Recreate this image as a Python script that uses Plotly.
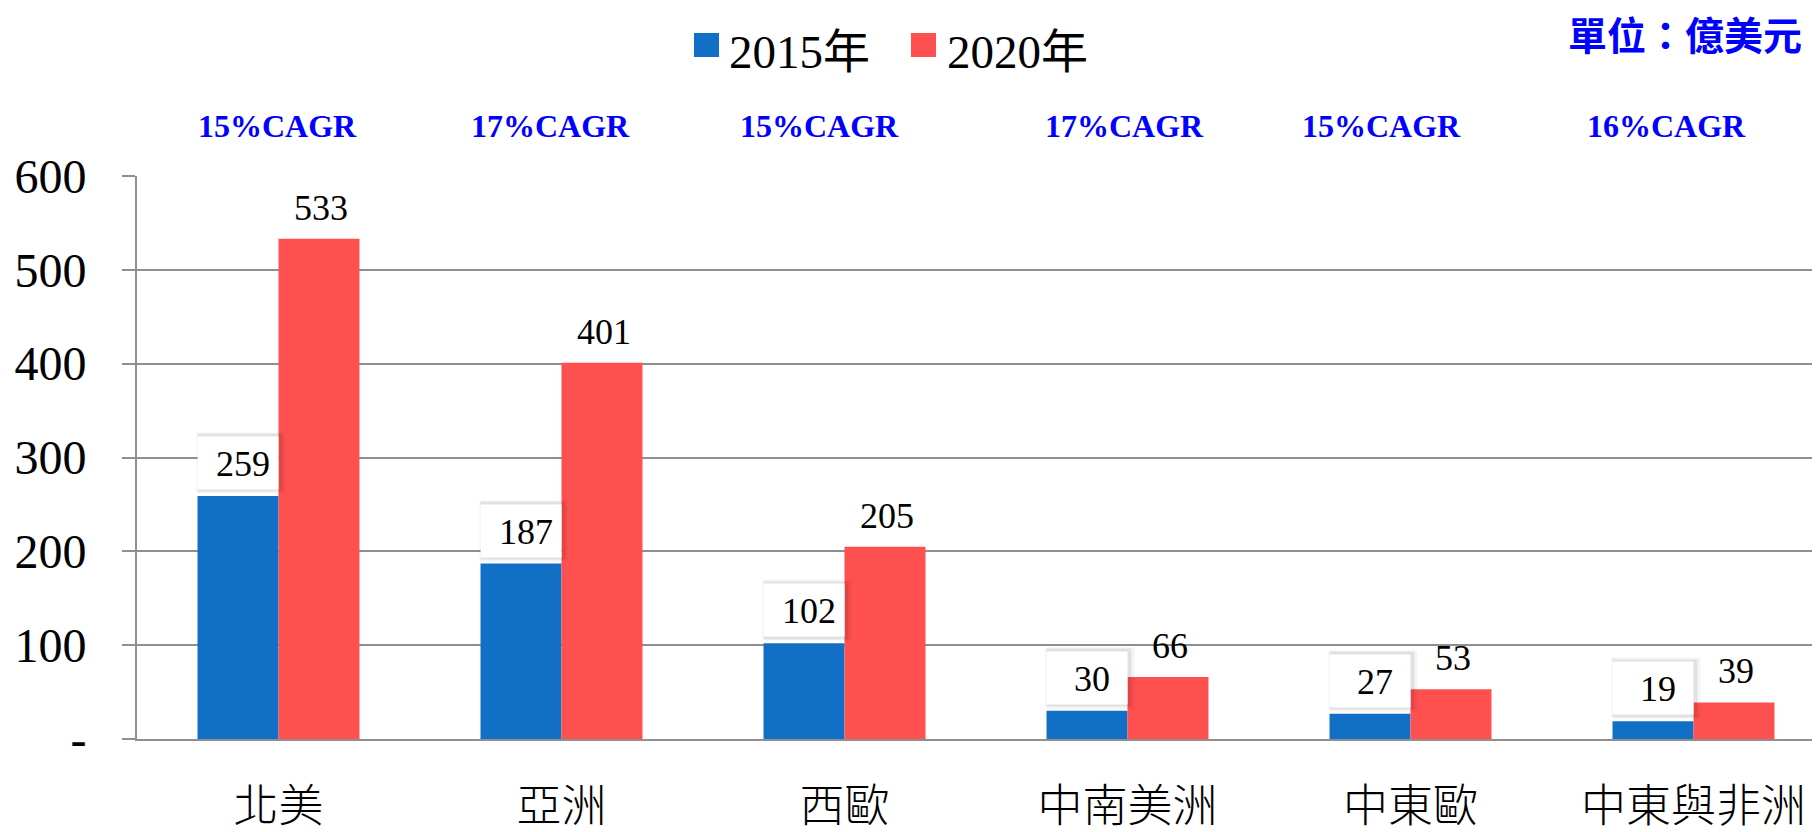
import plotly.graph_objects as go

# ---- data ----
categories = ["北美", "亞洲", "西歐", "中南美洲", "中東歐", "中東與非洲"]
values_2015 = [259, 187, 102, 30, 27, 19]
values_2020 = [533, 401, 205, 66, 53, 39]
cagr_pct = [15, 17, 15, 17, 15, 16]
series_names = ["2015年", "2020年"]
y_tickvals = [0, 100, 200, 300, 400, 500, 600]
y_ticktext = ["-", "100", "200", "300", "400", "500", "600"]
unit_text = "單位：億美元"

# ---- style ----
BLUE = "#1170C6"
RED = "#FF5050"
GRID = "#8F8F8F"
W, H = 1820, 832
OFF = 8  # page body margin: figure is drawn 8px right/down of the window corner
# target pixel positions in the window
SL, ST, SB = 137, 176, 739
L, T, B = SL - OFF, ST - OFF, SB - OFF   # figure coordinates
R = W
SPACING = 283.0
cagr_dx = [-1, -11, -25, -3, -29, -27]

SERIF = "Liberation Serif, Times New Roman, Noto Sans CJK TC"
CJK = "Noto Sans CJK TC"


def px2x(px):  # window px -> paper x
    return (px - OFF - L) / (R - L)


def py2y(py):  # window px -> paper y
    return (B - (py - OFF)) / (B - T)


fig = go.Figure()
fig.add_trace(go.Bar(x=categories, y=values_2015, name=series_names[0],
                     marker=dict(color=BLUE, line=dict(width=0)), showlegend=False))
fig.add_trace(go.Bar(x=categories, y=values_2020, name=series_names[1],
                     marker=dict(color=RED, line=dict(width=0)), showlegend=False))

annotations = []
# CAGR labels
for i, cat in enumerate(categories):
    annotations.append(dict(
        x=cat, xref="x", y=py2y(126), yref="paper", text=f"{cagr_pct[i]}%CAGR",
        xshift=cagr_dx[i], showarrow=False, xanchor="center", yanchor="middle",
        font=dict(family=SERIF, size=32, color="#0000FF", weight="bold")))

# 2020 value labels
for cat, v in zip(categories, values_2020):
    annotations.append(dict(
        x=cat, y=v, xshift=42, yshift=31, text=str(v), showarrow=False,
        xanchor="center", yanchor="middle",
        font=dict(family=SERIF, size=36, color="black")))

# 2015 value labels in white boxes with a soft shadow
for cat, v in zip(categories, values_2015):
    annotations.append(dict(
        x=cat, y=v, xshift=-37.5, yshift=2, text="", showarrow=False,
        xanchor="center", yanchor="bottom", width=88, height=60, borderpad=0,
        bgcolor="rgba(0,0,0,0.04)"))
    annotations.append(dict(
        x=cat, y=v, xshift=-38.5, yshift=3.5, text="", showarrow=False,
        xanchor="center", yanchor="bottom", width=84, height=57, borderpad=0,
        bgcolor="rgba(0,0,0,0.08)"))
    annotations.append(dict(
        x=cat, y=v, xshift=-40.5, yshift=6, text="", showarrow=False,
        xanchor="center", yanchor="bottom", width=80, height=52, borderpad=0,
        bgcolor="white"))
    annotations.append(dict(
        x=cat, y=v, xshift=-35.5, yshift=32, text=str(v), showarrow=False,
        xanchor="center", yanchor="middle",
        font=dict(family=SERIF, size=36, color="black")))

# legend (manual, large squares)
legend_items = [(694, BLUE, series_names[0], 727), (911, RED, series_names[1], 945)]
shapes = []
for sx, col, name, tx in legend_items:
    shapes.append(dict(type="rect", xref="paper", yref="paper",
                       x0=px2x(sx), x1=px2x(sx + 25), y0=py2y(57), y1=py2y(33),
                       fillcolor=col, line=dict(width=0)))
    annotations.append(dict(x=px2x(tx), xref="paper", y=py2y(52), yref="paper",
                            text=name, showarrow=False, xanchor="left", yanchor="middle",
                            font=dict(family=SERIF, size=47, color="black")))

# unit label
annotations.append(dict(x=px2x(1804), xref="paper", y=py2y(33), yref="paper",
                        text=unit_text, showarrow=False, xanchor="right", yanchor="middle",
                        font=dict(family=CJK, size=39, color="#0000FF", weight="bold")))

fig.update_layout(
    width=W, height=H, autosize=False,
    margin=dict(l=L, r=W - R, t=T, b=H - B, pad=0),
    paper_bgcolor="white", plot_bgcolor="white",
    barmode="group", bargap=0.4276, bargroupgap=0,
    showlegend=False,
    annotations=annotations, shapes=shapes,
    xaxis=dict(type="category", range=[-0.5, -0.5 + (R - L) / SPACING],
               automargin=False,
               showgrid=False, showline=True, linecolor=GRID, linewidth=2,
               ticks="", ticklabelstandoff=27,
               tickfont=dict(family=CJK, size=45, color="black", weight=300)),
    yaxis=dict(range=[0, 600], tickvals=y_tickvals, ticktext=y_ticktext,
               automargin=False,
               showgrid=True, gridcolor=GRID, gridwidth=2,
               showline=True, linecolor=GRID, linewidth=2,
               zeroline=False,
               ticks="outside", ticklen=13, tickcolor=GRID, tickwidth=2,
               ticklabelstandoff=26,
               tickfont=dict(family=SERIF, size=48, color="black")),
)

fig.write_html("out.html")
